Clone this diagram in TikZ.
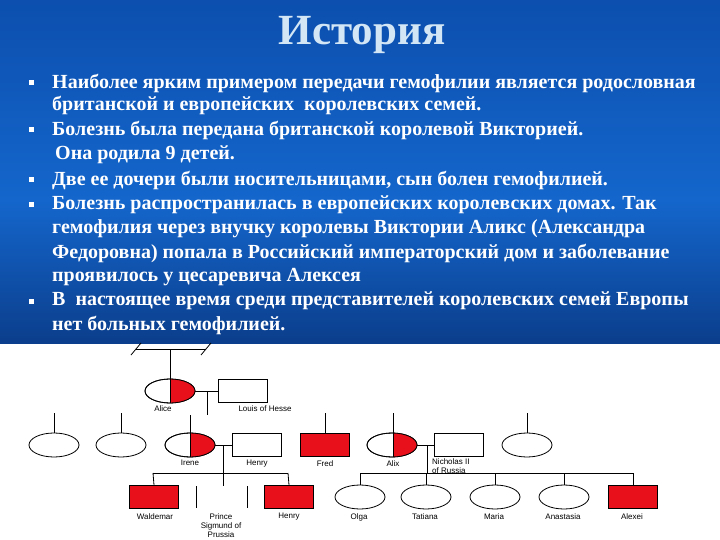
\documentclass[tikz,border=0pt]{standalone}
\usepackage{fontspec}
\usetikzlibrary{shapes.geometric}
\setmainfont{Liberation Serif}
\newfontfamily\lf{Liberation Sans}
\definecolor{bgtop}{HTML}{0C4FAE}
\definecolor{bgmid}{HTML}{1466CC}
\definecolor{bgbot}{HTML}{0B3E8C}
\definecolor{ttl}{HTML}{D2E6F6}
\definecolor{rd}{HTML}{E8101A}
\begin{document}
\begin{tikzpicture}[x=1pt,y=-1pt,
  ln/.style={line width=0.8pt},
  txt/.style={anchor=west,inner sep=0,text=white,font=\fontsize{20}{22}\selectfont\bfseries},
  bul/.style={fill=white,minimum size=5pt,inner sep=0},
  lab/.style={font=\lf\fontsize{8}{9}\selectfont,inner sep=0,anchor=north},
  box/.style={draw,ln,minimum width=49pt,minimum height=23pt,inner sep=0},
  ov/.style={draw,ln,ellipse,minimum width=50pt,minimum height=24pt,inner sep=0}]
\useasboundingbox (0,0) rectangle (720,540);
\fill[white] (0,0) rectangle (720,540);
\shade[top color=bgtop,bottom color=bgmid] (0,0) rectangle (720,200);
\shade[top color=bgmid,bottom color=bgbot] (0,200) rectangle (720,343);
\node[text=ttl,font=\fontsize{43}{46}\selectfont\bfseries] (title) at (362,35) {История};
% bullets
\foreach \i/\y in {b1/83,b2/130,b3/180,b4/205,b5/301}{\node[bul] (\i) at (31,\y) {};}
\node[txt] (l1) at (52,83) {Наиболее ярким примером передачи гемофилии является родословная};
\node[txt] (l2) at (52,105) {британской и европейских\ \ королевских семей.};
\node[txt] (l3) at (52,130) {Болезнь была передана британской королевой Викторией.};
\node[txt] (l4) at (55,155) {Она родила 9 детей.};
\node[txt] (l5) at (52,180) {Две ее дочери были носительницами, сын болен гемофилией.};
\node[txt] (l6) at (52,205) {Болезнь распространилась в европейских королевских домах. Так};
\node[txt] (l7) at (52,229) {гемофилия через внучку королевы Виктории Аликс (Александра};
\node[txt] (l8) at (52,253) {Федоровна) попала в Российский императорский дом и заболевание};
\node[txt] (l9) at (52,277) {проявилось у цесаревича Алексея};
\node[txt] (l10) at (52,301) {В\ \ настоящее время среди представителей королевских семей Европы};
\node[txt] (l11) at (52,325) {нет больных гемофилией.};
% pedigree
\coordinate (cbL) at (136,349); \coordinate (cbR) at (206,349);
\draw[ln] (cbL) -- (cbR);
\draw[ln] (131,355) -- (141,343); \draw[ln] (201,355) -- (211,343);
\node[ov] (alice) at (170,391) {};
\begin{scope}\clip (170,370) rectangle (200,410); \fill[rd] (alice) ellipse (25 and 12);\end{scope}
\draw[ln] (alice) ellipse (25 and 12); \draw[ln] (170,379) -- (170,403);
\draw[ln] (170,349) -- (alice.north);
\node[box] (louis) at (243,391) {};
\draw[ln] (alice.east) -- (louis.west);
\coordinate (ad) at (207,391); \draw[ln] (ad) -- (207,415);
\node[lab] at (163,406) {Alice};
\node[lab] at (265,406) {Louis of Hesse};
% row 2
\node[ov] (s1) at (54,445) {}; \draw[ln] (s1.north) -- (54,413);
\node[ov] (s2) at (121,445) {}; \draw[ln] (s2.north) -- (121,413);
\node[ov] (irene) at (190,445) {};
\begin{scope}\clip (190,430) rectangle (220,460); \fill[rd] (irene) ellipse (25 and 12);\end{scope}
\draw[ln] (irene) ellipse (25 and 12); \draw[ln] (190,415) -- (190,457);
\node[box] (henry) at (257,445) {};
\node[box,fill=rd] (fred) at (325,445) {}; \draw[ln] (fred.north) -- (325,413);
\node[ov] (alix) at (392,445) {};
\begin{scope}\clip (393,430) rectangle (420,460); \fill[rd] (alix) ellipse (25 and 12);\end{scope}
\draw[ln] (alix) ellipse (25 and 12); \draw[ln] (393,413) -- (393,457);
\node[box] (nich) at (459,445) {};
\node[ov] (s9) at (527,445) {}; \draw[ln] (s9.north) -- (527,413);
\draw[ln] (irene.east) -- (henry.west);
\draw[ln] (alix.east) -- (nich.west);
\node[lab] at (190,460) {Irene};
\node[lab] at (257,460) {Henry};
\node[lab] at (325,460) {Fred};
\node[lab] at (393,460) {Alix};
\node[lab,anchor=north west,align=left,font=\lf\fontsize{8}{9}\selectfont] at (432,458) {Nicholas II\\of Russia};
% row 3 Irene
\draw[ln] (223,445) -- (223,486);
\draw[ln] (153,473) -- (288,473);
\node[box,fill=rd] (wal) at (154,497) {};
\node[box,fill=rd] (hen2) at (289,497) {};
\draw[ln] (153,473) -- (wal.north); \draw[ln] (288,473) -- (hen2.north);
\draw[ln] (196,486) -- (196,508); \draw[ln] (247,486) -- (247,508);
\node[lab] at (155,513) {Waldemar};
\node[lab,align=center] at (221,513) {Prince\\Sigmund of\\Prussia};
\node[lab] at (289,513) {Henry};
% Alix children
\draw[ln] (427,445) -- (427,473);
\draw[ln] (360,473) -- (633,473);
\node[ov] (olga) at (360,497) {};
\node[ov] (tat) at (426,497) {};
\node[ov] (mar) at (495,497) {};
\node[ov] (ana) at (564,497) {};
\node[box,fill=rd] (alex) at (633,497) {};
\foreach \n in {olga,tat,mar,ana,alex}{\draw[ln] (\n.north) -- (\n.north |- 0,473);}
\node[lab] at (359,513) {Olga};
\node[lab] at (425,513) {Tatiana};
\node[lab] at (494,513) {Maria};
\node[lab] at (563,513) {Anastasia};
\node[lab] at (632,513) {Alexei};
\end{tikzpicture}
\end{document}
